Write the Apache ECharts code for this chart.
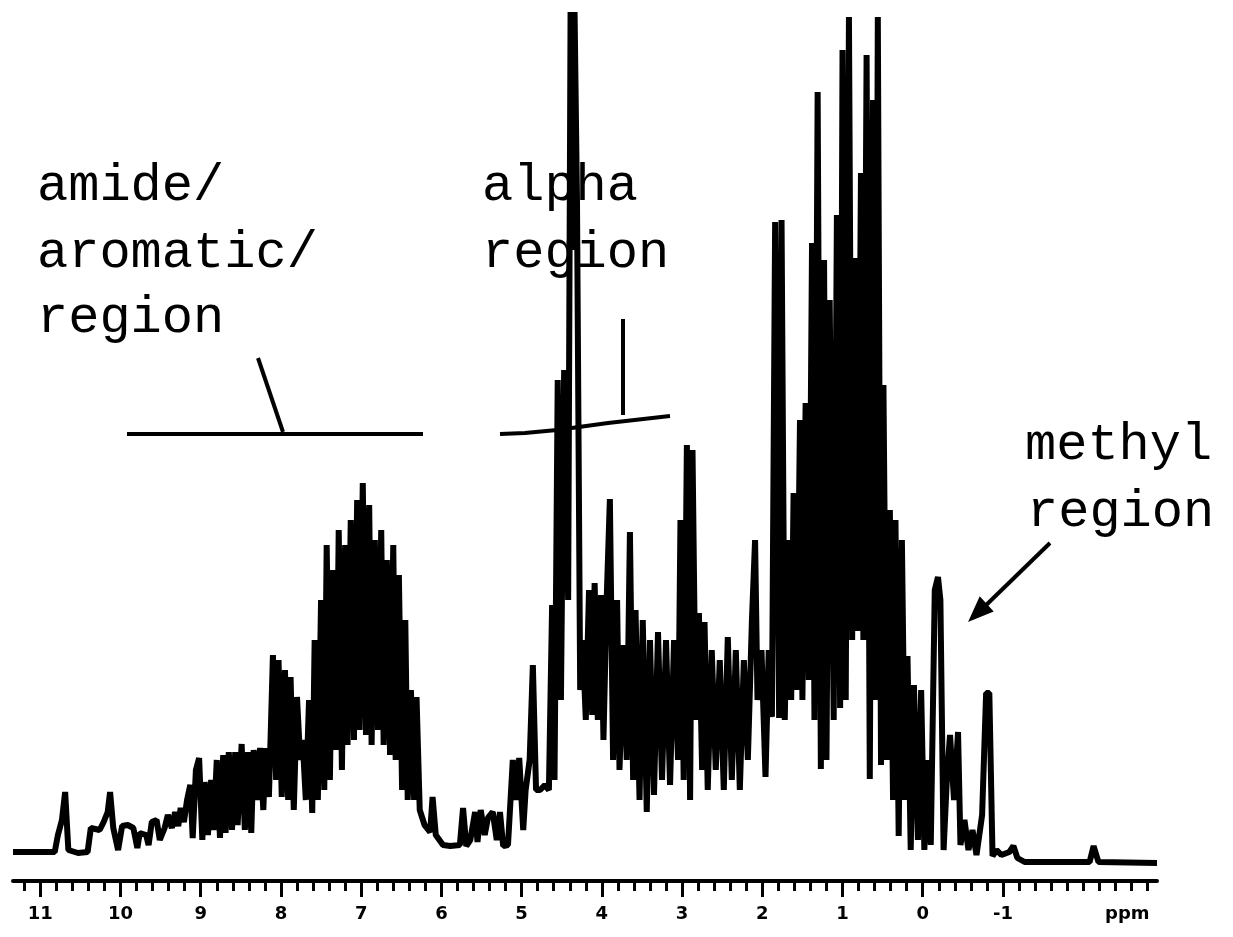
<!DOCTYPE html>
<html>
<head>
<meta charset="utf-8">
<script src="https://cdn.jsdelivr.net/npm/echarts@6/dist/echarts.min.js"></script>
<style>
  html, body { margin: 0; padding: 0; background: #fff; }
  #chart { width: 1233px; height: 937px; }
</style>
</head>
<body>
<div id="chart"></div>
<script>
// 1H NMR spectrum of a protein, chemical shift (ppm) vs. intensity (arbitrary units)
// trace, left (downfield) to right (upfield)

// amide / aromatic part
const aromaticPpm = [11.34,10.82,10.78,10.73,10.69,10.65,10.53,10.41,10.37,10.26,
  10.21,10.16,10.13,10.09,10.03,9.98,9.91,9.84,9.79,9.76,
  9.68,9.65,9.61,9.55,9.51,9.45,9.41,9.36,9.32,9.28,
  9.25,9.21,9.17,9.13,9.10,9.06,9.02,8.98,8.95,8.91,
  8.87,8.84,8.80,8.76,8.72,8.69,8.65,8.61,8.57,8.54,
  8.49,8.45,8.41,8.37,8.34,8.30,8.26,8.22,8.19,8.15,
  8.10,8.06,8.03,7.99,7.95,7.91,7.88,7.84,7.80,7.76,
  7.73,7.69,7.65,7.61,7.58,7.54,7.50,7.46,7.43,7.39,
  7.35,7.31,7.28,7.24,7.20,7.17,7.13,7.09,7.05,7.02,
  6.98,6.94,6.90,6.87,6.83,6.79,6.75,6.72,6.68,6.64,
  6.60,6.57,6.53,6.49,6.45,6.42,6.38,6.34,6.31,6.27,
  6.21,6.14,6.11,6.07,5.98];
const aromaticInt = [3,3,20,35,63,5,2,3,27,25,
  33,43,63,27,5,29,30,27,7,22,
  20,10,33,35,15,27,40,27,43,29,
  47,33,55,70,17,85,97,15,73,20,
  75,25,95,17,100,22,103,25,103,30,
  111,25,103,22,105,55,107,45,107,58,
  200,75,195,58,185,55,178,45,158,95,
  115,55,155,42,215,55,255,65,310,75,
  285,105,325,85,310,110,335,115,355,125,
  372,120,350,110,315,125,325,110,295,100,
  310,95,280,65,235,55,165,55,158,45,
  30,23,58,20,10];

// alpha part
const alphaPpm = [5.89,5.77,5.73,5.69,5.64,5.58,5.55,5.51,5.46,5.42,
  5.36,5.31,5.27,5.23,5.17,5.11,5.07,5.03,4.98,4.95,
  4.90,4.86,4.82,4.77,4.71,4.66,4.62,4.59,4.55,4.51,
  4.47,4.42,4.39,4.36,4.34,4.31,4.27,4.24,4.20,4.16,
  4.12,4.09,4.05,4.01,3.98,3.94,3.90,3.86,3.81,3.78,
  3.73,3.69,3.65,3.61,3.58,3.53,3.49,3.44,3.40,3.35,
  3.30,3.25,3.20,3.15,3.10,3.05,3.02,2.98,2.94,2.90,
  2.87,2.83,2.79,2.75,2.72,2.68,2.63,2.58,2.53,2.48,
  2.43,2.38,2.33,2.28,2.23,2.18,2.13,2.09,2.06,2.01,
  1.96];
const alphaInt = [9,10,47,9,15,43,13,45,20,37,
  43,15,43,9,10,95,55,97,25,65,
  95,190,65,65,70,65,250,75,475,155,
  485,255,843,605,843,655,165,215,135,265,
  140,272,135,260,115,255,356,95,255,85,
  210,95,323,75,245,55,235,43,215,60,
  223,75,215,70,215,95,335,75,410,55,
  405,135,242,85,233,65,205,85,195,65,
  218,75,205,65,195,95,233,315,155,205,
  78];

// aliphatic part
const aliphaticPpm = [1.92,1.88,1.84,1.79,1.76,1.72,1.68,1.64,1.61,1.57,
  1.53,1.50,1.46,1.42,1.38,1.35,1.31,1.27,1.23,1.20,
  1.16,1.11,1.07,1.03,1.00,0.96,0.92,0.88,0.85,0.81,
  0.77,0.74,0.70,0.66,0.62,0.59,0.56,0.52,0.49,0.45,
  0.41,0.37,0.34,0.30,0.26,0.22,0.19,0.15];
const aliphaticInt = [205,138,633,137,635,135,315,155,362,165,
  435,155,452,175,612,135,763,86,595,95,
  555,135,640,147,805,155,838,215,597,224,
  682,215,800,76,755,155,838,90,470,95,
  345,55,335,19,315,55,199,5];

// methyl part + upfield baseline
const methylPpm = [0.11,0.06,0.02,-0.02,-0.06,-0.10,-0.15,-0.19,-0.22,-0.26,
  -0.30,-0.34,-0.39,-0.44,-0.47,-0.52,-0.57,-0.62,-0.67,-0.74,
  -0.79,-0.83,-0.87,-0.92,-0.98,-1.08,-1.13,-1.18,-1.27,-1.71,
  -2.08,-2.13,-2.19,-2.92];
const methylInt = [170,15,165,5,95,10,265,278,255,5,
  75,120,55,123,10,35,5,25,0,40,
  162,162,-1,5,0,3,9,-3,-7,-7,
  -7,9,-7,-8];

const tickValues = [11,10,9,8,7,6,5,4,3,2,1,0,-1];
const unitPos = -2.55;

const ppm = [].concat(aromaticPpm, alphaPpm, aliphaticPpm, methylPpm);
const intensity = [].concat(aromaticInt, alphaInt, aliphaticInt, methylInt);
const trace = ppm.map((p, i) => [p, intensity[i]]);

let minorTicks = [];
for (let k = 56; k >= -14; k--) {
  minorTicks.push(k / 5);
}

const labelFont = '52px "Liberation Mono"';
const txt = (s, x, y) => ({
  type: 'text', silent: true,
  style: { text: s, x: x, y: y, font: labelFont, fill: '#000', verticalAlign: 'middle' }
});
const seg = (x1, y1, x2, y2) => ({
  type: 'line', silent: true,
  shape: { x1: x1, y1: y1, x2: x2, y2: y2 },
  style: { stroke: '#000', lineWidth: 4 }
});

const chart = echarts.init(document.getElementById('chart'));
chart.setOption({
  animation: false,
  backgroundColor: '#fff',
  grid: { left: 13, right: 76, top: 10, bottom: 56 },
  xAxis: [{
    type: 'value', min: -2.92, max: 11.34, inverse: true,
    axisLine: { onZero: false, lineStyle: { color: '#000', width: 4 } },
    axisTick: { customValues: tickValues, length: 16, lineStyle: { color: '#000', width: 3 } },
    axisLabel: {
      customValues: tickValues.concat([unitPos]), margin: 24,
      color: '#000', fontFamily: 'DejaVu Sans', fontWeight: 'bold', fontSize: 18,
      formatter: v => (v === unitPos ? 'ppm' : String(v))
    },
    splitLine: { show: false }
  }, {
    type: 'value', min: -2.92, max: 11.34, inverse: true, position: 'bottom',
    axisLine: { show: false, onZero: false },
    axisTick: { customValues: minorTicks, length: 10, lineStyle: { color: '#000', width: 3 } },
    axisLabel: { show: false },
    splitLine: { show: false }
  }],
  yAxis: { type: 'value', min: -26, max: 845, show: false },
  series: [{
    type: 'line', xAxisIndex: 0, data: trace, showSymbol: false, silent: true,
    lineStyle: { color: '#000', width: 6, join: 'bevel' }
  }],
  graphic: [
    txt('amide/', 37, 186),
    txt('aromatic/', 37, 253),
    txt('region', 37, 318),
    seg(127, 434, 423, 434),
    seg(258, 358, 283, 432),
    txt('alpha', 482, 186),
    txt('region', 482, 253),
    {
      type: 'polyline', silent: true,
      shape: { points: [[500, 434], [525, 433], [557, 430], [608, 423], [670, 416]] },
      style: { stroke: '#000', lineWidth: 4, fill: null }
    },
    seg(623, 319, 623, 415),
    txt('methyl', 1025, 445),
    txt('region', 1027, 512),
    seg(1050, 543, 980, 611),
    {
      type: 'polygon', silent: true,
      shape: { points: [[970, 620], [992, 611], [980, 598]] },
      style: { fill: '#000', stroke: '#000', lineWidth: 2 }
    }
  ]
});
</script>
</body>
</html>
